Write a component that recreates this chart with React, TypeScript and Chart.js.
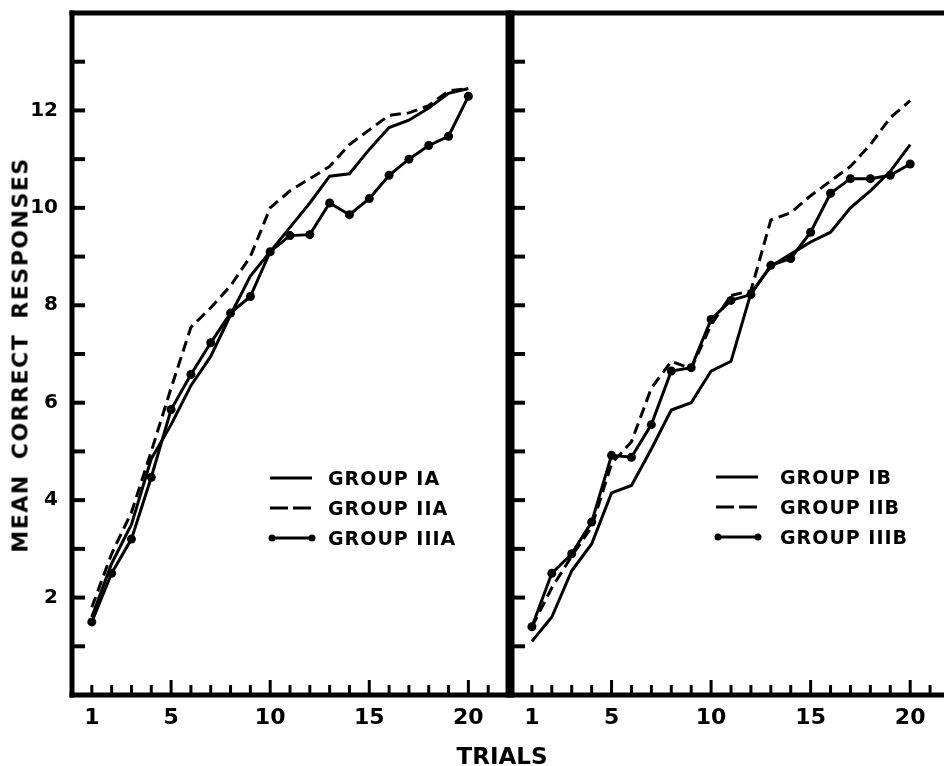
import React, { useEffect, useRef } from 'react';
import { Chart, registerables } from 'chart.js';

Chart.register(...registerables);

// ---------- data ----------
const trials = [1, 2, 3, 4, 5, 6, 7, 8, 9, 10, 11, 12, 13, 14, 15, 16, 17, 18, 19, 20];

const groupIA = [1.6, 2.7, 3.5, 4.85, 5.55, 6.35, 6.95, 7.8, 8.6, 9.1, 9.6, 10.1, 10.65, 10.7, 11.2, 11.65, 11.8, 12.05, 12.35, 12.45];
const groupIIA = [1.8, 2.9, 3.75, 5.0, 6.3, 7.55, 7.95, 8.4, 9.0, 10.0, 10.35, 10.6, 10.85, 11.3, 11.6, 11.9, 11.95, 12.1, 12.4, 12.45];
const groupIIIA = [1.5, 2.5, 3.2, 4.47, 5.86, 6.58, 7.23, 7.84, 8.18, 9.1, 9.43, 9.45, 10.1, 9.86, 10.19, 10.67, 11.0, 11.28, 11.47, 12.29];

const groupIB = [1.1, 1.6, 2.55, 3.1, 4.15, 4.3, 5.05, 5.85, 6.0, 6.65, 6.85, 8.25, 8.8, 9.05, 9.3, 9.5, 10.0, 10.35, 10.75, 11.3];
const groupIIB = [1.4, 2.2, 2.85, 3.45, 4.75, 5.2, 6.3, 6.85, 6.7, 7.6, 8.2, 8.3, 9.75, 9.9, 10.25, 10.55, 10.85, 11.3, 11.85, 12.2];
const groupIIIB = [1.4, 2.5, 2.9, 3.55, 4.92, 4.88, 5.55, 6.65, 6.72, 7.71, 8.1, 8.22, 8.82, 8.96, 9.5, 10.3, 10.6, 10.6, 10.67, 10.9];

const xTickLabels = [1, 5, 10, 15, 20];
const xMajorTicks = [5, 10, 15, 20];
const yTickLabels = [2, 4, 6, 8, 10, 12];

const legendLeft = ['GROUP IA', 'GROUP IIA', 'GROUP IIIA'];
const legendRight = ['GROUP IB', 'GROUP IIB', 'GROUP IIIB'];

const X_MIN = 0;
const X_MAX = 22;
const Y_MIN = 0;
const Y_MAX = 14;

const FONT = "'DejaVu Sans', 'Liberation Sans', sans-serif";

// ---------- helpers ----------
const toPoints = (vals: number[]) => trials.map((t, i) => ({ x: t, y: vals[i] }));

const solidSet = (label: string, vals: number[]) => ({
  label,
  data: toPoints(vals),
  borderColor: '#000',
  borderWidth: 3,
  pointRadius: 0,
  tension: 0,
  fill: false,
});
const dashedSet = (label: string, vals: number[]) => ({
  ...solidSet(label, vals),
  borderDash: [11, 6],
});
const dottedSet = (label: string, vals: number[]) => ({
  ...solidSet(label, vals),
  pointRadius: 4.5,
  pointBackgroundColor: '#000',
  pointBorderWidth: 0,
  pointHoverRadius: 4.5,
});

const framePlugin = {
  id: 'frame',
  afterDatasetsDraw(chart: any, _args: any, opts: any) {
    const { ctx, chartArea: a, scales } = chart;
    const x = scales.x;
    const y = scales.y;
    const line = (x1: number, y1: number, x2: number, y2: number) => {
      ctx.beginPath();
      ctx.moveTo(x1, y1);
      ctx.lineTo(x2, y2);
      ctx.stroke();
    };
    ctx.save();
    ctx.strokeStyle = '#000';
    ctx.lineCap = 'butt';
    ctx.setLineDash([]);
    ctx.lineWidth = 4;
    y.ticks.forEach((t: any) => {
      if (t.value > y.min && t.value < y.max) {
        const py = y.getPixelForValue(t.value);
        line(a.left, py, a.left + 13, py);
      }
    });
    ctx.lineWidth = 3;
    x.ticks.forEach((t: any) => {
      if (t.value > x.min && t.value < x.max) {
        const px = x.getPixelForValue(t.value);
        const len = xMajorTicks.includes(t.value) ? 15 : 10;
        line(px, a.bottom, px, a.bottom - len);
      }
    });
    ctx.lineWidth = 5;
    ctx.lineCap = 'square';
    line(a.left, a.top, a.left, a.bottom);
    line(a.left, a.bottom, a.right, a.bottom);
    line(a.left, a.top, a.right, a.top);
    if (opts && opts.right) line(a.right, a.top, a.right, a.bottom);
    ctx.restore();
  },
};

const noOverflow = (s: any) => {
  s.paddingTop = 0;
  s.paddingBottom = 0;
  s.paddingLeft = 0;
  s.paddingRight = 0;
};

const makeOptions = (showYLabels: boolean, yWidth: number, padRight: number, drawRight: boolean) => ({
  responsive: false,
  animation: false as const,
  events: [],
  layout: { padding: { top: 13, right: padRight, left: 0, bottom: 0 } },
  plugins: {
    legend: { display: false },
    tooltip: { enabled: false },
    frame: { right: drawRight },
  },
  scales: {
    x: {
      type: 'linear' as const,
      min: X_MIN,
      max: X_MAX,
      grid: { display: false, drawTicks: false },
      border: { display: false },
      ticks: {
        stepSize: 1,
        autoSkip: false,
        maxRotation: 0,
        padding: 10,
        color: '#000',
        font: { family: FONT, size: 22, weight: 'bold' as const },
        callback: (v: any) => (xTickLabels.includes(Number(v)) ? String(v) : ''),
      },
      afterFit: (s: any) => {
        s.height = 71;
        noOverflow(s);
      },
    },
    y: {
      type: 'linear' as const,
      min: Y_MIN,
      max: Y_MAX,
      grid: { display: false, drawTicks: false },
      border: { display: false },
      ticks: {
        display: showYLabels,
        stepSize: 1,
        autoSkip: false,
        padding: 14,
        color: '#000',
        font: { family: FONT, size: 20, weight: 'bold' as const },
        callback: (v: any) => (yTickLabels.includes(Number(v)) ? String(v) : ''),
      },
      afterFit: (s: any) => {
        s.width = yWidth;
        noOverflow(s);
      },
    },
  },
});

function Panel(props: { left: number; width: number; datasets: any[]; showY: boolean; yWidth: number; padRight: number; drawRight: boolean }) {
  const ref = useRef<HTMLCanvasElement | null>(null);
  useEffect(() => {
    if (!ref.current) return;
    const chart = new Chart(ref.current, {
      type: 'line',
      data: { datasets: props.datasets },
      options: makeOptions(props.showY, props.yWidth, props.padRight, props.drawRight) as any,
      plugins: [framePlugin],
    });
    return () => chart.destroy();
  }, []);
  return (
    <canvas
      ref={ref}
      width={props.width}
      height={766}
      style={{ position: 'absolute', left: props.left, top: 0, width: props.width, height: 766 }}
    />
  );
}

function Sample(props: { kind: number }) {
  const w = 48;
  if (props.kind === 0)
    return (
      <svg width={w} height={12}>
        <line x1={2} y1={6} x2={44} y2={6} stroke="#000" strokeWidth={3} />
      </svg>
    );
  if (props.kind === 1)
    return (
      <svg width={w} height={12}>
        <line x1={2} y1={6} x2={44} y2={6} stroke="#000" strokeWidth={3} strokeDasharray="18 5" />
      </svg>
    );
  return (
    <svg width={w} height={12}>
      <line x1={4} y1={6} x2={44} y2={6} stroke="#000" strokeWidth={3} />
      <circle cx={4} cy={6} r={3.5} fill="#000" />
      <circle cx={44} cy={6} r={3.5} fill="#000" />
    </svg>
  );
}

function Legend(props: { labels: string[]; sampleLeft: number; textLeft: number; top: number }) {
  return (
    <>
      {props.labels.map((lab, i) => (
        <div key={lab} style={{ position: 'absolute', left: props.sampleLeft, top: props.top + i * 30 - 12, height: 24, display: 'flex', alignItems: 'center' }}>
          <Sample kind={i} />
          <span
            style={{
              position: 'absolute',
              left: props.textLeft - props.sampleLeft,
              whiteSpace: 'nowrap',
              font: `bold 19px ${FONT}`,
              letterSpacing: '1px',
              color: '#000',
            }}
          >
            {lab}
          </span>
        </div>
      ))}
    </>
  );
}

export default function App() {
  const leftSets = [solidSet('GROUP IA', groupIA), dashedSet('GROUP IIA', groupIIA), dottedSet('GROUP IIIA', groupIIIA)];
  const rightSets = [solidSet('GROUP IB', groupIB), dashedSet('GROUP IIB', groupIIB), dottedSet('GROUP IIIB', groupIIIB)];
  return (
    <div style={{ position: 'absolute', left: 0, top: 0, width: 944, height: 766, overflow: 'hidden', background: '#fff' }}>
      <Panel left={0} width={515} datasets={leftSets} showY={true} yWidth={72} padRight={7} drawRight={true} />
      <Panel left={500} width={460} datasets={rightSets} showY={false} yWidth={12} padRight={10} drawRight={false} />
      <Legend labels={legendLeft} sampleLeft={268} textLeft={328} top={478} />
      <Legend labels={legendRight} sampleLeft={714} textLeft={780} top={477} />
      <div
        style={{
          position: 'absolute',
          left: 20,
          top: 355,
          transform: 'translate(-50%, -50%) rotate(-90deg)',
          whiteSpace: 'nowrap',
          font: `bold 22px ${FONT}`,
          letterSpacing: '1.5px',
          wordSpacing: '6px',
          color: '#000',
        }}
      >
        MEAN CORRECT RESPONSES
      </div>
      <div
        style={{
          position: 'absolute',
          left: 502,
          top: 756,
          transform: 'translate(-50%, -50%)',
          whiteSpace: 'nowrap',
          font: `bold 23px ${FONT}`,
          color: '#000',
        }}
      >
        TRIALS
      </div>
    </div>
  );
}
